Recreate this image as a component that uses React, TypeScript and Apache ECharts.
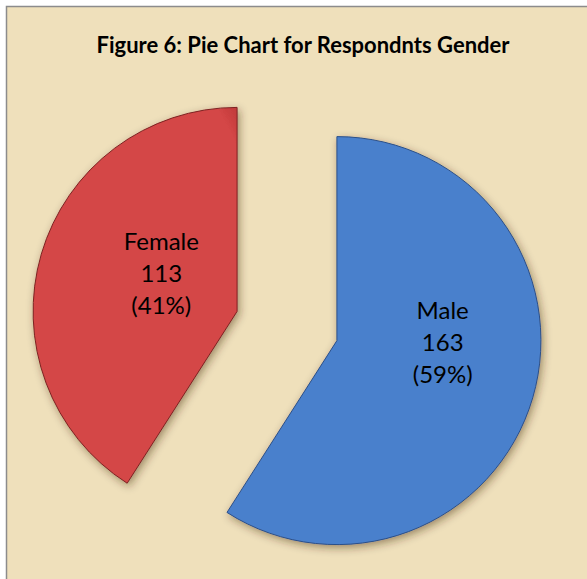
import React, { useEffect, useRef } from "react";
import * as echarts from "echarts";

const categories = ["Male", "Female"];
const counts = [163, 113];
const titleText = "Figure 6: Pie Chart for Respondnts Gender";

const sliceColors = [
  { light: "#4a80cc", dark: "#3764a8", border: "#2b4f88" },
  { light: "#d44646", dark: "#b23232", border: "#7e2222" },
];
// label nudges from the default inside position (male, female)
const labelShift = [
  { dx: 5, dy: -29 },
  { dx: 25, dy: -9 },
];

export default function App() {
  const ref = useRef<HTMLDivElement>(null);
  useEffect(() => {
    if (!ref.current) return;
    const chart = echarts.init(ref.current, null, { renderer: "svg" });
    const data = categories.map((name, i) => ({
      name,
      value: counts[i],
      selected: true,
      itemStyle: {
        color: {
          type: "radial",
          x: 0.5,
          y: 0.5,
          r: 0.75,
          colorStops: [
            { offset: 0, color: sliceColors[i].light },
            { offset: 0.85, color: sliceColors[i].light },
            { offset: 1, color: sliceColors[i].dark },
          ],
        },
        borderColor: sliceColors[i].border,
        borderWidth: 1,
        shadowBlur: 8,
        shadowOffsetX: 2,
        shadowOffsetY: 3,
        shadowColor: "rgba(60,40,10,0.45)",
      },
    }));
    chart.setOption({
      animation: false,
      backgroundColor: "#ffffff",
      graphic: [
        {
          type: "rect",
          z: -10,
          silent: true,
          shape: { x: 6.5, y: 6.5, width: 600, height: 600 },
          style: { fill: "#efe0bb", stroke: "#8c8c8c", lineWidth: 1.5 },
        },
      ],
      title: {
        text: titleText,
        left: 298,
        top: 28,
        textAlign: "center",
        textStyle: {
          fontFamily: "Lato",
          fontWeight: "bold",
          fontSize: 22,
          color: "#000000",
        },
      },
      series: [
        {
          type: "pie",
          center: [287, 326],
          radius: [0, 204],
          startAngle: 90,
          clockwise: true,
          selectedMode: "multiple",
          selectedOffset: 52,
          percentPrecision: 0,
          emphasis: { disabled: true },
          label: {
            show: true,
            position: "inside",
            formatter: "{b}\n{c}\n({d}%)",
            fontFamily: "Lato",
            fontSize: 24,
            lineHeight: 32,
            color: "#000000",
          },
          labelLine: { show: false },
          labelLayout: (p: any) => ({
            dx: labelShift[p.dataIndex].dx,
            dy: labelShift[p.dataIndex].dy,
          }),
          data,
        },
      ],
    });
    return () => chart.dispose();
  }, []);
  return (
    <div
      ref={ref}
      style={{ position: "fixed", left: 0, top: 0, width: 587, height: 579 }}
    />
  );
}
